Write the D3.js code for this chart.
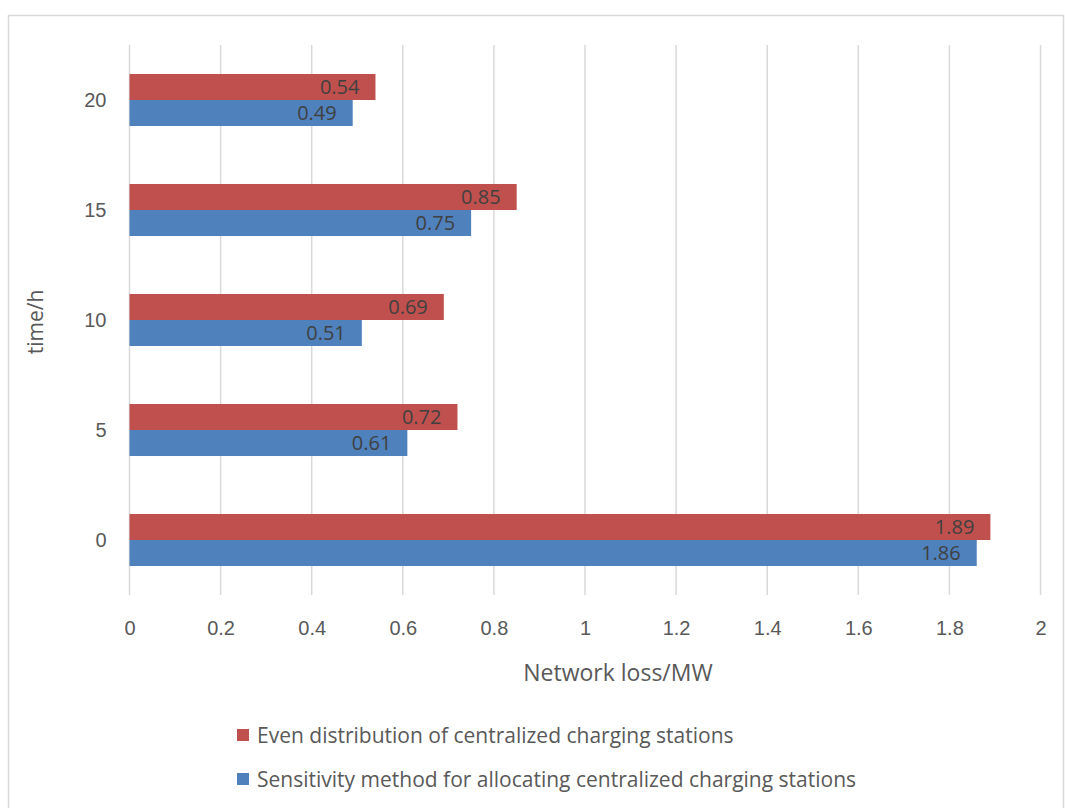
<!DOCTYPE html>
<html>
<head>
<meta charset="utf-8">
<script src="https://cdn.jsdelivr.net/npm/d3@7"></script>
<style>
  html, body { margin: 0; padding: 0; background: #fff; }
  svg { display: block; font-family: "Open Sans", "Noto Sans", sans-serif; }
</style>
</head>
<body>
<svg id="chart" width="1065" height="808"></svg>
<script>
// Network loss per hour for two charging-station allocation schemes
const hours = ["0", "5", "10", "15", "20"];
const evenDistribution = [1.89, 0.72, 0.69, 0.85, 0.54];
const sensitivityMethod = [1.86, 0.61, 0.51, 0.75, 0.49];
const xTicks = [0, 0.2, 0.4, 0.6, 0.8, 1, 1.2, 1.4, 1.6, 1.8, 2];
const seriesNames = [
  "Even distribution of centralized charging stations",
  "Sensitivity method for allocating centralized charging stations"
];
const seriesColors = ["#C0504D", "#4F81BD"];

const svg = d3.select("#chart");
const textColor = "#595959";

// outer chart frame
svg.append("rect")
  .attr("x", 8.5).attr("y", 15.5)
  .attr("width", 1055).attr("height", 820)
  .attr("fill", "none").attr("stroke", "#D9D9D9").attr("stroke-width", 1.5);

const plot = { left: 129.5, right: 1040.5, top: 45, bottom: 595 };

const x = d3.scaleLinear().domain([0, 2]).range([plot.left, plot.right]);
// categories run bottom (0) to top (20)
const y = d3.scaleBand().domain(hours).range([plot.bottom, plot.top])
  .paddingInner(0.527).paddingOuter(0.2635);
const sub = d3.scaleBand().domain([0, 1]).range([0, y.bandwidth()]);

// vertical gridlines
svg.append("g").selectAll("line").data(xTicks).join("line")
  .attr("x1", d => x(d)).attr("x2", d => x(d))
  .attr("y1", plot.top).attr("y2", plot.bottom)
  .attr("stroke", "#D9D9D9").attr("stroke-width", 1.5);

// x axis tick labels
const xAxis = d3.axisBottom(x).tickValues(xTicks).tickSize(0).tickPadding(0)
  .tickFormat(d => String(d));
const gx = svg.append("g").attr("transform", `translate(0,${plot.bottom})`).call(xAxis);
gx.select(".domain").remove();
gx.selectAll("text").attr("dy", null).attr("y", 40)
  .attr("font-size", 20).attr("fill", textColor).attr("font-family", "inherit");

// y axis tick labels
const yAxis = d3.axisLeft(y).tickSize(0).tickPadding(0);
const gy = svg.append("g").attr("transform", `translate(${plot.left},0)`).call(yAxis);
gy.select(".domain").remove();
gy.selectAll("text").attr("x", -23).attr("dy", "0.35em")
  .attr("font-size", 20).attr("fill", textColor).attr("font-family", "inherit");

// bars
const rows = hours.map((h, i) => ({ h, vals: [evenDistribution[i], sensitivityMethod[i]] }));
const groups = svg.append("g").selectAll("g").data(rows).join("g")
  .attr("transform", d => `translate(0,${y(d.h)})`);

groups.selectAll("rect").data(d => d.vals.map((v, k) => ({ v, k }))).join("rect")
  .attr("x", x(0))
  .attr("y", d => sub(d.k))
  .attr("width", d => x(d.v) - x(0))
  .attr("height", sub.bandwidth())
  .attr("fill", d => seriesColors[d.k]);

// value labels inside bar end
groups.selectAll("text").data(d => d.vals.map((v, k) => ({ v, k }))).join("text")
  .attr("x", d => x(d.v) - 16)
  .attr("y", d => sub(d.k) + sub.bandwidth() / 2)
  .attr("dy", "0.36em")
  .attr("text-anchor", "end")
  .attr("font-size", 20)
  .attr("fill", "#404040")
  .text(d => d.v.toFixed(2));

// axis titles
svg.append("text")
  .attr("x", (plot.left + plot.right) / 2 + 33).attr("y", 681)
  .attr("text-anchor", "middle").attr("font-size", 23).attr("fill", textColor)
  .text("Network loss/MW");

svg.append("text")
  .attr("transform", `translate(43,${(plot.top + plot.bottom) / 2 + 2}) rotate(-90)`)
  .attr("text-anchor", "middle").attr("font-size", 21).attr("fill", textColor)
  .text("time/h");

// legend
const legend = svg.append("g").selectAll("g").data(seriesNames).join("g")
  .attr("transform", (d, i) => `translate(237,${735 + i * 44})`);
legend.append("rect")
  .attr("x", 0).attr("y", -6).attr("width", 12).attr("height", 12)
  .attr("fill", (d, i) => seriesColors[i]);
legend.append("text")
  .attr("x", 20).attr("dy", "0.36em")
  .attr("font-size", 21).attr("fill", textColor)
  .text(d => d);
</script>
</body>
</html>
